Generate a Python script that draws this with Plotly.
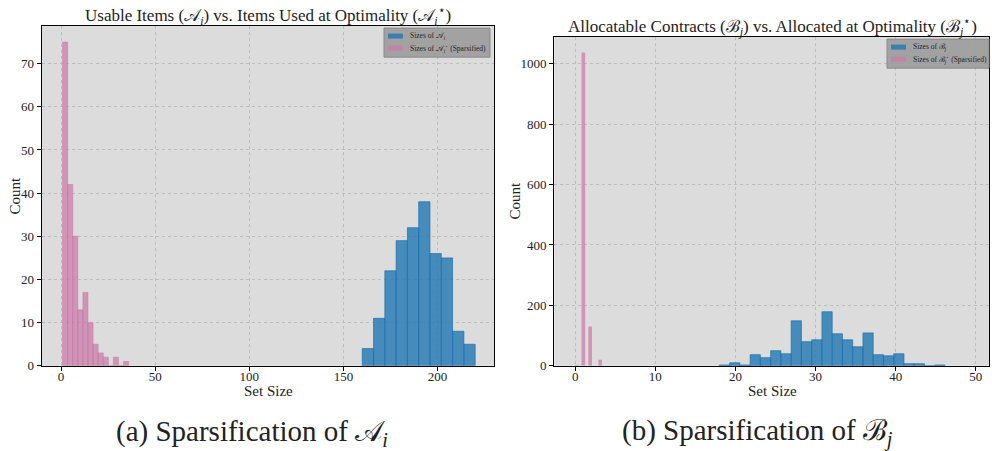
import plotly.graph_objects as go

# ---- histogram data (bin lower edge, bin width, counts) ----
# Left panel: sizes of A_i (usable items) and A_i* (items used at optimality)
a_full_start = 160.0
a_full_width = 6.0
a_full_counts = [4, 11, 22, 29, 32, 38, 26, 25, 8, 5]

a_sparse_start = 0.8
a_sparse_width = 2.7
a_sparse_counts = [75, 42, 30, 13, 17, 10, 5, 3, 2, 0, 2, 0, 1]

# Right panel: sizes of B_j (allocatable contracts) and B_j* (allocated)
b_full_start = 18.0
b_full_width = 1.28
b_full_counts = [3, 10, 3, 37, 27, 50, 40, 149, 80, 86, 179, 106,
                 86, 63, 109, 37, 33, 40, 7, 7, 0, 3]

b_sparse_left = [0.0, 0.8, 1.65, 2.9]
b_sparse_width = 0.45
b_sparse_counts = [3, 1037, 130, 20]

left_xticks = [0, 50, 100, 150, 200]
left_yticks = [0, 10, 20, 30, 40, 50, 60, 70]
right_xticks = [0, 10, 20, 30, 40, 50]
right_yticks = [0, 200, 400, 600, 800, 1000]

left_legend = ["Sizes of 𝒜<sub><i>i</i></sub>",
               "Sizes of 𝒜<sub><i>i</i></sub><sup>⋆</sup> (Sparsified)"]
right_legend = ["Sizes of ℬ<sub><i>j</i></sub>",
                "Sizes of ℬ<sub><i>j</i></sub><sup>⋆</sup> (Sparsified)"]

BLUE = "rgba(31,119,180,0.8)"
BLUE_EDGE = "rgba(31,110,170,0.85)"
PINK = "rgba(204,121,167,0.72)"
PINK_EDGE = "rgba(200,110,160,0.75)"
BG = "#dcdcdc"
FONT = "Liberation Serif"


def centers(start, width, n):
    return [start + width * (k + 0.5) for k in range(n)]


fig = go.Figure()

# left panel
fig.add_trace(go.Bar(
    x=centers(a_full_start, a_full_width, len(a_full_counts)), y=a_full_counts,
    width=a_full_width, marker=dict(color=BLUE, line=dict(color=BLUE_EDGE, width=0.8)),
    name=left_legend[0], xaxis="x", yaxis="y"))
fig.add_trace(go.Bar(
    x=centers(a_sparse_start, a_sparse_width, len(a_sparse_counts)), y=a_sparse_counts,
    width=a_sparse_width, marker=dict(color=PINK, line=dict(color=PINK_EDGE, width=0.6)),
    name=left_legend[1], xaxis="x", yaxis="y"))

# right panel
fig.add_trace(go.Bar(
    x=centers(b_full_start, b_full_width, len(b_full_counts)), y=b_full_counts,
    width=b_full_width, marker=dict(color=BLUE, line=dict(color=BLUE_EDGE, width=0.8)),
    name=right_legend[0], xaxis="x2", yaxis="y2"))
fig.add_trace(go.Bar(
    x=[v + b_sparse_width / 2 for v in b_sparse_left], y=b_sparse_counts,
    width=b_sparse_width, marker=dict(color=PINK, line=dict(width=0)),
    name=right_legend[1], xaxis="x2", yaxis="y2"))

W, H = 992, 451
H_VIEW = 442  # vertical extent the page is shown at


def px_x(p):
    return p / W


def px_y(p):
    return 1 - p / H_VIEW


axis_common = dict(
    showline=True, linecolor="black", linewidth=1.3, mirror=True,
    ticks="outside", ticklen=4, tickcolor="black", tickwidth=1,
    showgrid=True, gridcolor="#bcbcbc", griddash="dot", gridwidth=1,
    zeroline=False, tickfont=dict(family=FONT, size=13, color="#222"),
)

fig.update_layout(
    width=W, height=H, autosize=False,
    margin=dict(l=0, r=0, t=0, b=0),
    paper_bgcolor="white", plot_bgcolor=BG,
    barmode="overlay", showlegend=False,
    font=dict(family=FONT, color="#222"),
    xaxis=dict(domain=[px_x(41.7), px_x(494)], range=[-10.3, 230],
               tickvals=left_xticks, anchor="y", ticklabelstandoff=-6,
               **axis_common),
    yaxis=dict(domain=[px_y(365), px_y(26)], range=[0, 78.7],
               tickvals=left_yticks, anchor="x", **axis_common),
    xaxis2=dict(domain=[px_x(554.3), px_x(989)], range=[-2.6, 51.65],
                tickvals=right_xticks, anchor="y2", ticklabelstandoff=-6,
                **axis_common),
    yaxis2=dict(domain=[px_y(365), px_y(37)], range=[0, 1088],
                tickvals=right_yticks, anchor="x2", **axis_common),
)

annotations = [
    # panel titles
    dict(text="Usable Items (𝒜<sub><i>i</i></sub>) vs. Items Used at Optimality (𝒜<sub><i>i</i></sub><sup>⋆</sup>)",
         x=px_x(268), y=px_y(15), font=dict(size=17)),
    dict(text="Allocatable Contracts (ℬ<sub><i>j</i></sub>) vs. Allocated at Optimality (ℬ<sub><i>j</i></sub><sup>⋆</sup>)",
         x=px_x(772), y=px_y(26), font=dict(size=17)),
    # axis titles
    dict(text="Set Size", x=px_x(268), y=px_y(390), font=dict(size=15)),
    dict(text="Set Size", x=px_x(772), y=px_y(390), font=dict(size=15)),
    dict(text="Count", x=px_x(15), y=px_y(195), textangle=-90, font=dict(size=15)),
    dict(text="Count", x=px_x(515), y=px_y(200), textangle=-90, font=dict(size=15)),
    # sub-figure captions
    dict(text="(a) Sparsification of 𝒜<sub><i>i</i></sub>", x=px_x(252), y=px_y(432),
         font=dict(size=29)),
    dict(text="(b) Sparsification of ℬ<sub><i>j</i></sub>", x=px_x(757), y=px_y(432),
         font=dict(size=29)),
]

# legend boxes drawn as paper-anchored frames with colour swatches
shapes = []
legend_specs = [
    (384, 490, 28, 57, left_legend),
    (887, 989, 39, 68, right_legend),
]
for x0, x1, y0, y1, labels in legend_specs:
    shapes.append(dict(type="rect", xref="paper", yref="paper",
                       x0=px_x(x0), x1=px_x(x1), y0=px_y(y1), y1=px_y(y0),
                       fillcolor="rgba(155,155,155,0.9)",
                       line=dict(color="#8a8a8a", width=1), layer="above"))
    for k, (lab, col) in enumerate(zip(labels, [BLUE, PINK])):
        yc = y0 + 8 + 12 * k
        shapes.append(dict(type="rect", xref="paper", yref="paper",
                           x0=px_x(x0 + 4), x1=px_x(x0 + 19),
                           y0=px_y(yc + 2.5), y1=px_y(yc - 2.5),
                           fillcolor=col, line=dict(width=0), layer="above"))
        annotations.append(dict(text=lab, x=px_x(x0 + 24), y=px_y(yc),
                                xanchor="left", font=dict(size=7.5)))

for a in annotations:
    a.setdefault("xanchor", "center")
    a.update(xref="paper", yref="paper", showarrow=False, yanchor="middle")
    a["font"] = dict(family=FONT, color="#222", **a["font"])
fig.update_layout(annotations=annotations, shapes=shapes)

fig.write_html("out.html", config={"responsive": False})
